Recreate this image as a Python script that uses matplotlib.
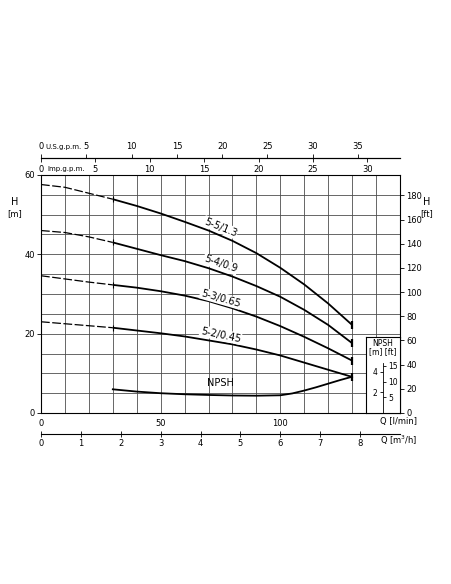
import matplotlib
matplotlib.use('Agg')
import matplotlib.pyplot as plt
from matplotlib.ticker import MultipleLocator

# dati (Q in l/min, H in m)
q_dash = [0, 10, 20, 30]
q_solid = [30, 40, 50, 60, 70, 80, 90, 100, 110, 120, 130]

h55_dash = [57.6, 56.9, 55.4, 53.9]
h55 = [53.9, 52.2, 50.3, 48.2, 46.0, 43.4, 40.3, 36.6, 32.4, 27.6, 22.2]
h54_dash = [46.0, 45.5, 44.4, 43.0]
h54 = [43.0, 41.4, 39.8, 38.3, 36.5, 34.4, 32.0, 29.3, 26.0, 22.2, 17.6]
h53_dash = [34.6, 33.8, 33.0, 32.3]
h53 = [32.3, 31.6, 30.7, 29.6, 28.2, 26.4, 24.3, 21.9, 19.2, 16.3, 13.2]
h52_dash = [23.0, 22.5, 22.0, 21.5]
h52 = [21.5, 20.8, 20.1, 19.3, 18.3, 17.3, 16.0, 14.5, 12.7, 10.9, 9.1]

q_npsh = [30, 40, 50, 60, 70, 80, 90, 100, 105, 110, 115, 120, 125, 130]
npsh = [2.3, 2.08, 1.92, 1.82, 1.75, 1.7, 1.68, 1.72, 1.9, 2.18, 2.5, 2.85, 3.2, 3.52]

curve_names = ['5-5/1.3', '5-4/0.9', '5-3/0.65', '5-2/0.45']
label_q = [75, 75, 75, 75]
label_h = [46.8, 37.5, 28.9, 19.7]
label_rot = [-22, -19, -16, -12]

plt.rcParams['font.family'] = ['DejaVu Sans']
plt.rcParams['font.size'] = 6

W, H = 452, 584
fig = plt.figure(figsize=(W / 100, H / 100), dpi=100)

def fx(px):
    return px / W

def fy(py):
    return 1 - py / H

# assi principali: 0-150 l/min, 0-60 m
ax = fig.add_axes([fx(41), fy(413), (400 - 41) / W, (413 - 175) / H])
ax.set_xlim(0, 150)
ax.set_ylim(0, 60)
ax.set_xticks([0, 50, 100])
ax.set_yticks([0, 20, 40, 60])
ax.xaxis.set_minor_locator(MultipleLocator(10))
ax.yaxis.set_minor_locator(MultipleLocator(5))
ax.grid(True, which='both', color='0.3', lw=0.6)
ax.tick_params(axis='x', which='both', length=0, pad=4)
ax.tick_params(axis='y', which='major', length=3, width=0.6, pad=1.5)
ax.tick_params(axis='y', which='minor', length=0)
for s in ax.spines.values():
    s.set_linewidth(0.8)

curves = [(h55_dash, h55), (h54_dash, h54), (h53_dash, h53), (h52_dash, h52)]
for (hd, hs) in curves:
    ax.plot(q_dash, hd, color='k', lw=0.9, dashes=(7, 2))
    ax.plot(q_solid, hs, color='k', lw=1.3, solid_capstyle='butt')
    ax.plot([q_solid[0]], [hs[0]], marker='|', ms=4, mew=0.8, color='k')
    ax.plot([q_solid[-1]], [hs[-1]], marker='|', ms=6, mew=1.6, color='k')

for name, q, h, r in zip(curve_names, label_q, label_h, label_rot):
    ax.text(q, h, name, rotation=r, ha='center', va='center', fontsize=7,
            bbox=dict(facecolor='white', edgecolor='none', pad=0.6))
ax.text(75, 7.5, 'NPSH', ha='center', va='center', fontsize=7)

# scala in piedi a destra
ax_ft = ax.twinx()
ax_ft.set_ylim(0, 60 * 3.28084)
ax_ft.set_yticks(range(0, 181, 20))
ax_ft.tick_params(axis='y', length=3, width=0.6, pad=1.5)
for s in ax_ft.spines.values():
    s.set_visible(False)

# curva NPSH su scala propria (circa 10.3 px per metro)
ax_np = ax.twinx()
ax_np.set_ylim(0, 238 / 10.3)
ax_np.axis('off')
ax_np.plot(q_npsh, npsh, color='k', lw=1.3)

# assi in alto: U.S. g.p.m. e Imp. g.p.m.
us = ax.secondary_xaxis(1.07, functions=(lambda q: q / 3.785, lambda g: g * 3.785))
us.set_xticks(range(0, 36, 5))
us.tick_params(length=3, width=0.6, pad=2.5)
us.spines['top'].set_linewidth(0.8)

imp = ax.secondary_xaxis(1.07, functions=(lambda q: q / 4.546, lambda g: g * 4.546))
imp.set_alignment('bottom')
imp.set_xticks(range(0, 31, 5))
imp.tick_params(length=3, width=0.6, pad=1.5)
imp.spines['bottom'].set_linewidth(0.8)

fig.text(fx(64), fy(147), 'U.S.g.p.m.', ha='center', va='center', fontsize=5)
fig.text(fx(66), fy(168.5), 'Imp.g.p.m.', ha='center', va='center', fontsize=5)

# asse in basso m3/h
m3 = ax.secondary_xaxis(-0.0895, functions=(lambda q: q * 0.06, lambda m: m / 0.06))
m3.set_xticks(range(0, 9))
m3.tick_params(direction='inout', length=5, width=0.6, pad=1)
m3.spines['bottom'].set_linewidth(0.8)

fig.text(fx(399), fy(421.5), 'Q [l/min]', ha='center', va='center', fontsize=6)
fig.text(fx(399), fy(440.5), r'Q [m$^3$/h]', ha='center', va='center', fontsize=6)

fig.text(fx(15), fy(202), 'H', ha='center', va='center', fontsize=7)
fig.text(fx(15), fy(213.5), '[m]', ha='center', va='center', fontsize=6)
fig.text(fx(427), fy(202), 'H', ha='center', va='center', fontsize=7)
fig.text(fx(427), fy(213.5), '[ft]', ha='center', va='center', fontsize=6)

# riquadro scala NPSH
box = fig.add_axes([fx(366), fy(413), (400 - 366) / W, (413 - 337.3) / H], zorder=3)
box.set_xticks([])
box.set_yticks([])
box.set_facecolor('white')
for s in box.spines.values():
    s.set_linewidth(0.8)

sc_m = fig.add_axes([fx(382.7), fy(413), 0.0001, (413 - 363.3) / H], zorder=4)
sc_m.patch.set_visible(False)
sc_m.set_ylim(0, 49.7 / 10.3)
sc_m.set_xticks([])
sc_m.set_yticks([2, 4])
sc_m.tick_params(axis='y', length=2.5, width=0.6, pad=1.5, labelsize=5.5)
for k in ['top', 'right', 'bottom']:
    sc_m.spines[k].set_visible(False)
sc_m.spines['left'].set_linewidth(0.6)

sc_ft = sc_m.twinx()
sc_ft.set_ylim(0, 49.7 / 10.3 * 3.28084)
sc_ft.set_yticks([5, 10, 15])
sc_ft.tick_params(axis='y', length=2.5, width=0.6, pad=1.5, labelsize=5.5)
for s in sc_ft.spines.values():
    s.set_visible(False)

fig.text(fx(382.7), fy(343), 'NPSH', ha='center', va='center', fontsize=5.5, zorder=5)
fig.text(fx(382.7), fy(352), '[m] [ft]', ha='center', va='center', fontsize=5.5, zorder=5)

fig.savefig('out.png', dpi=100, facecolor='white')
